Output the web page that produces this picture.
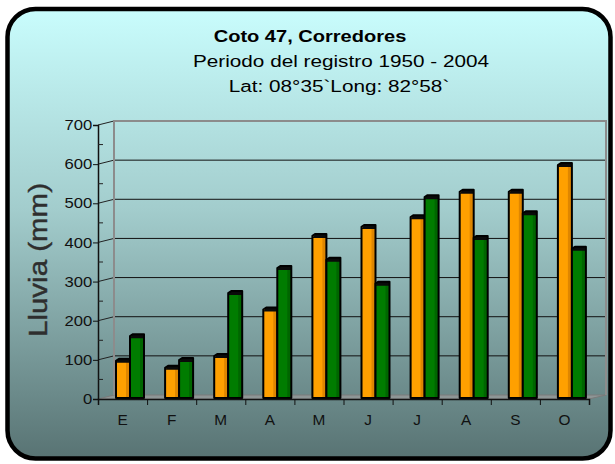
<!DOCTYPE html>
<html>
<head>
<meta charset="utf-8">
<script src="https://cdn.jsdelivr.net/npm/d3@7"></script>
<style>
  body { margin: 0; background: #fff; }
  svg { display: block; }
  text { font-family: Arial, "Liberation Sans", sans-serif; }
</style>
</head>
<body>
<div class="svgWrapper"></div>
<script>
// Data //
const months = ["E", "F", "M", "A", "M", "J", "J", "A", "S", "O"];
const serieNaranja = [95, 77, 107, 226, 414, 437, 462, 527, 527, 595];
const serieVerde = [158, 97, 268, 332, 353, 292, 513, 409, 472, 381];
const yTicks = [0, 100, 200, 300, 400, 500, 600, 700];
const yMinorTicks = [50, 150, 250, 350, 450, 550, 650];
const titleLines = [
  "Coto 47, Corredores",
  "Periodo del registro 1950 - 2004",
  "Lat: 08°35`Long: 82°58`"
];
const yTitle = "Lluvia (mm)";

// Styles //
const svgStyles = { w: 615, h: 464 };
const plot = { left: 98, right: 589, top: 125, bottom: 399 };
const depth = { dx: 16, dy: -4 };
const colors = {
  naranja: { front: "#ffa000", side: "#df8600" },
  verde: { front: "#007c00", side: "#006600" }
};

let svg = d3
  .select(".svgWrapper")
  .append("svg")
  .attr("width", svgStyles.w)
  .attr("height", svgStyles.h);

// background gradient
const grad = svg
  .append("defs")
  .append("linearGradient")
  .attr("id", "bg")
  .attr("x1", 0)
  .attr("y1", 0)
  .attr("x2", 0)
  .attr("y2", 1);
grad.append("stop").attr("offset", "0%").attr("stop-color", "#c9fdfd");
grad.append("stop").attr("offset", "45%").attr("stop-color", "#a2cccc");
grad.append("stop").attr("offset", "100%").attr("stop-color", "#587373");

svg
  .append("rect")
  .attr("x", 7.5)
  .attr("y", 9)
  .attr("width", 603)
  .attr("height", 449.5)
  .attr("rx", 28)
  .attr("fill", "url(#bg)")
  .attr("stroke", "#000")
  .attr("stroke-width", 4.5);

// titles
const titlePos = [
  { x: 310, y: 42, bold: true, sx: 1.18 },
  { x: 341, y: 67, bold: false, sx: 1.22 },
  { x: 339, y: 92, bold: false, sx: 1.22 }
];
titleLines.forEach((t, i) => {
  svg
    .append("text")
    .attr(
      "transform",
      `translate(${titlePos[i].x},${titlePos[i].y}) scale(${titlePos[i].sx},1)`
    )
    .attr("text-anchor", "middle")
    .style("font-size", "17px")
    .style("font-weight", titlePos[i].bold ? "bold" : "normal")
    .attr("fill", "#000")
    .text(t);
});

// y title
svg
  .append("text")
  .attr("transform", "translate(47,260) rotate(-90)")
  .attr("text-anchor", "middle")
  .attr("textLength", 154)
  .attr("lengthAdjust", "spacingAndGlyphs")
  .style("font-size", "25px")
  .attr("fill", "#2e2e2e")
  .attr("stroke", "#2e2e2e")
  .attr("stroke-width", 0.4)
  .text(yTitle);

// Scales
const xScale = d3
  .scaleBand()
  .domain(d3.range(months.length))
  .range([plot.left, plot.right]);

const xBounds = d3
  .scaleLinear()
  .domain([0, months.length])
  .range([plot.left, plot.right]);

const yScale = d3
  .scaleLinear()
  .domain([0, 700])
  .range([plot.bottom, plot.top]);

const backLeft = plot.left + depth.dx;
const backRight = plot.right + depth.dx + 1;
const backTop = yScale(700) + depth.dy;
const backBottom = yScale(0) + depth.dy;

// gridlines on back wall
svg
  .append("g")
  .selectAll("line")
  .data(yTicks.filter(d => d > 0 && d < 700))
  .enter()
  .append("line")
  .attr("x1", backLeft)
  .attr("x2", backRight)
  .attr("y1", d => yScale(d) + depth.dy)
  .attr("y2", d => yScale(d) + depth.dy)
  .attr("stroke", "#111")
  .attr("stroke-width", 1);

// connectors from front axis to wall
svg
  .append("g")
  .selectAll("line")
  .data(yTicks.filter(d => d > 0))
  .enter()
  .append("line")
  .attr("x1", plot.left)
  .attr("x2", backLeft)
  .attr("y1", d => yScale(d))
  .attr("y2", d => yScale(d) + depth.dy)
  .attr("stroke", "#222")
  .attr("stroke-width", 1);

// floor
svg
  .append("polygon")
  .attr(
    "points",
    [
      [plot.left, plot.bottom],
      [backLeft, backBottom],
      [backRight, backBottom],
      [plot.right, plot.bottom]
    ].join(" ")
  )
  .attr("fill", "#8e9696")
  .attr("stroke", "#7a7a7a")
  .attr("stroke-width", 1);

// back wall frame
svg
  .append("path")
  .attr(
    "d",
    `M${backLeft},${backBottom}V${backTop}H${backRight}V${backBottom}`
  )
  .attr("fill", "none")
  .attr("stroke", "#8c8c8c")
  .attr("stroke-width", 2);

// bars
const barW = 14;
const faceW = 10;
const barOffset = 18;
const series = [
  { values: serieNaranja, c: colors.naranja },
  { values: serieVerde, c: colors.verde }
];

const bars = svg.append("g").attr("class", "bars");
months.forEach((m, i) => {
  series.forEach((s, si) => {
    const x0 = xScale(i) + barOffset + si * barW;
    const top = yScale(s.values[i]) - 1;
    const bottom = yScale(0) - 1;
    const g = bars.append("g");
    g.append("path")
      .attr(
        "d",
        `M${x0},${bottom}V${top}L${x0 + 3},${top - 2}H${x0 + barW}V${bottom}Z`
      )
      .attr("fill", s.c.front);
    g.append("rect")
      .attr("x", x0 + faceW)
      .attr("y", top)
      .attr("width", barW - faceW)
      .attr("height", bottom - top)
      .attr("fill", s.c.side);
    g.append("polygon")
      .attr(
        "points",
        [
          [x0, top + 2],
          [x0 + 3, top - 2],
          [x0 + barW, top - 2],
          [x0 + barW, top + 2]
        ].join(" ")
      )
      .attr("fill", "#0a0a0a");
    g.append("path")
      .attr(
        "d",
        `M${x0},${bottom}V${top}L${x0 + 3},${top - 2}H${x0 + barW}V${bottom}Z`
      )
      .attr("fill", "none")
      .attr("stroke", "#000")
      .attr("stroke-width", 2)
      .attr("stroke-linejoin", "round");
  });
});

// Y axis
const yAxis = d3
  .axisLeft(yScale)
  .tickValues(yTicks)
  .tickSize(5)
  .tickPadding(0)
  .tickFormat(d3.format("d"));

const yAxisG = svg
  .append("g")
  .attr("id", "y-axis")
  .attr("transform", `translate(${plot.left},0)`)
  .call(yAxis);
yAxisG.select(".domain").attr("stroke", "#111").attr("stroke-width", 1.5);
yAxisG.selectAll(".tick line").attr("stroke", "#111");
yAxisG
  .selectAll(".tick text")
  .attr("transform", "scale(1.15,1)")
  .style("font-size", "14.5px")
  .attr("fill", "#111")
  .attr("font-family", null);

svg
  .append("g")
  .selectAll("line")
  .data(yMinorTicks)
  .enter()
  .append("line")
  .attr("x1", plot.left)
  .attr("x2", plot.left + 5)
  .attr("y1", d => yScale(d))
  .attr("y2", d => yScale(d))
  .attr("stroke", "#222");

// X axis ticks (band boundaries)
const xTickAxis = d3
  .axisBottom(xBounds)
  .tickValues(d3.range(months.length + 1))
  .tickSize(6)
  .tickFormat("");
const xTickG = svg
  .append("g")
  .attr("transform", `translate(0,${plot.bottom})`)
  .call(xTickAxis);
xTickG.select(".domain").attr("stroke", "#111").attr("stroke-width", 1.5);
xTickG.selectAll(".tick line").attr("stroke", "#111");

// X labels
const xAxis = d3
  .axisBottom(xScale)
  .tickSize(0)
  .tickPadding(16)
  .tickFormat(i => months[i]);
const xAxisG = svg
  .append("g")
  .attr("id", "x-axis")
  .attr("transform", `translate(0,${plot.bottom})`)
  .call(xAxis);
xAxisG.select(".domain").remove();
xAxisG
  .selectAll(".tick text")
  .attr("transform", "scale(1.1,1)")
  .style("font-size", "14px")
  .attr("fill", "#111")
  .attr("font-family", null);
</script>
</body>
</html>
